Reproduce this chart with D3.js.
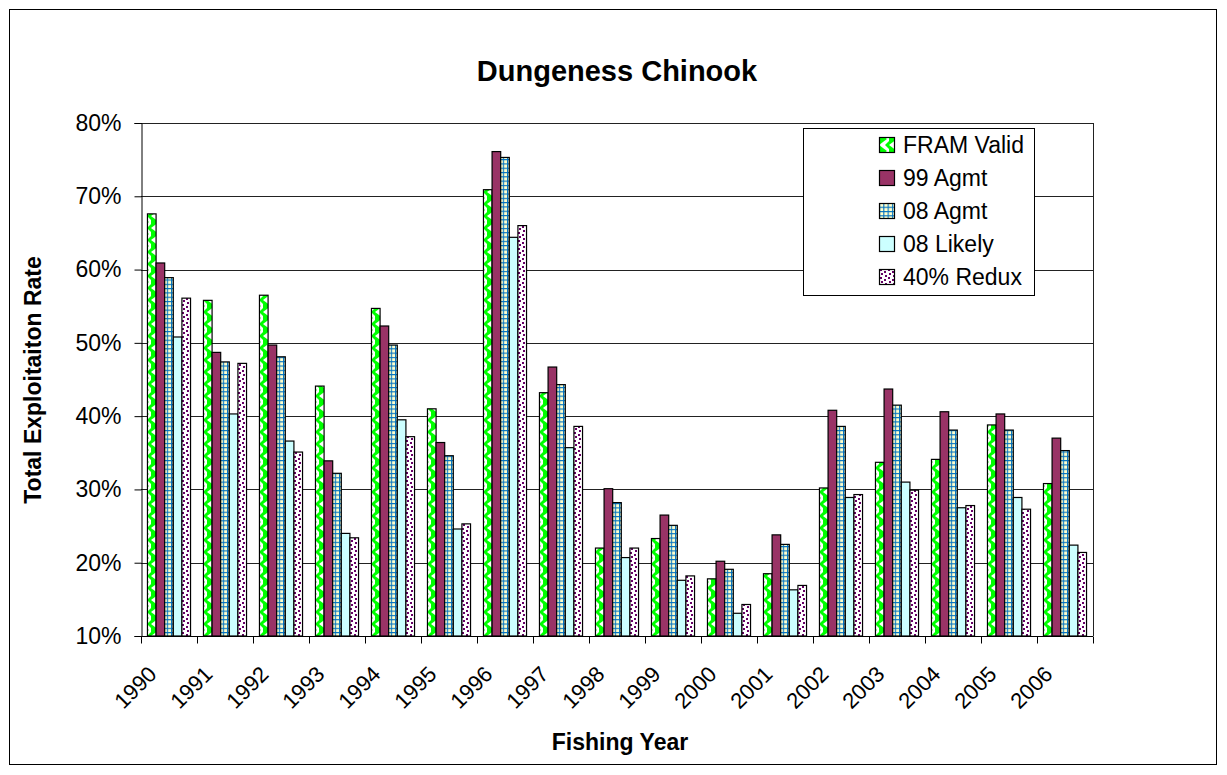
<!DOCTYPE html>
<html>
<head>
<meta charset="utf-8">
<script src="https://cdn.jsdelivr.net/npm/d3@7"></script>
<style>
  html, body { margin: 0; padding: 0; background: #fff; }
  svg { display: block; font-family: "Liberation Sans", Arial, sans-serif; }
</style>
</head>
<body>
<svg id="chart" width="1227" height="775"></svg>
<script>
// Total exploitation rate by fishing year, five model scenarios
const years = ["1990","1991","1992","1993","1994","1995","1996","1997","1998","1999","2000","2001","2002","2003","2004","2005","2006"];
const seriesNames = ["FRAM Valid", "99 Agmt", "08 Agmt", "08 Likely", "40% Redux"];
const framValid = [67.6, 55.8, 56.5, 44.1, 54.7, 41.0, 70.9, 43.2, 22.0, 23.3, 17.8, 18.5, 30.2, 33.7, 34.1, 38.8, 30.8];
const agmt99    = [60.9, 48.7, 49.7, 33.9, 52.3, 36.4, 76.1, 46.7, 30.1, 26.5, 20.2, 23.8, 40.8, 43.7, 40.6, 40.3, 37.0];
const agmt08    = [58.9, 47.4, 48.1, 32.2, 49.7, 34.6, 75.3, 44.3, 28.2, 25.1, 19.1, 22.5, 38.6, 41.5, 38.1, 38.1, 35.3];
const likely08  = [50.8, 40.3, 36.6, 24.0, 39.5, 24.6, 64.4, 35.7, 20.7, 17.6, 13.1, 16.3, 28.9, 31.0, 27.5, 28.9, 22.4];
const redux40   = [56.1, 47.2, 35.1, 23.4, 37.2, 25.3, 66.0, 38.6, 22.0, 18.2, 14.3, 16.9, 29.3, 29.9, 27.8, 27.3, 21.4];
const yTicks = [0.1, 0.2, 0.3, 0.4, 0.5, 0.6, 0.7, 0.8];

const seriesValues = [framValid, agmt99, agmt08, likely08, redux40];
const fills = ["url(#pFram)", "#993366", "url(#pGrid)", "#CCFFFF", "url(#pConfetti)"];

const svg = d3.select("#chart");
const plot = { left: 141, right: 1093, top: 123, bottom: 636 };

// Patterned fills
const defs = svg.append("defs");
const pF = defs.append("pattern").attr("id", "pFram").attr("patternUnits", "userSpaceOnUse")
  .attr("width", 10).attr("height", 12);
pF.append("rect").attr("width", 10).attr("height", 12).attr("fill", "#fff");
pF.append("path").attr("d", "M0,0 L8,6 L0,12 Z").attr("fill", "#00FF00");
pF.append("path").attr("d", "M6,0 L10,0 L10,12 L6,12 L10,8 L10,4 Z").attr("fill", "#00FF00");

const pG = defs.append("pattern").attr("id", "pGrid").attr("patternUnits", "userSpaceOnUse")
  .attr("width", 4.3).attr("height", 4.3);
pG.append("rect").attr("width", 4.3).attr("height", 4.3).attr("fill", "#FFFFCC");
pG.append("rect").attr("width", 1.1).attr("height", 4.3).attr("fill", "#0070C0");
pG.append("rect").attr("width", 4.3).attr("height", 1.1).attr("fill", "#0070C0");

const pC = defs.append("pattern").attr("id", "pConfetti").attr("patternUnits", "userSpaceOnUse")
  .attr("width", 8).attr("height", 8);
pC.append("rect").attr("width", 8).attr("height", 8).attr("fill", "#fff");
[[1,0],[5,2],[2,4],[6,6]].forEach(([px, py]) =>
  pC.append("rect").attr("x", px).attr("y", py).attr("width", 2).attr("height", 2).attr("fill", "#660066"));

// Outer frame
svg.append("rect").attr("x", 9.5).attr("y", 9.5).attr("width", 1207).attr("height", 755)
  .attr("fill", "#fff").attr("stroke", "#000").attr("stroke-width", 1);

// Scales
const x0 = d3.scaleBand().domain(years).range([plot.left, plot.right]).paddingInner(0).paddingOuter(0);
const x1 = d3.scaleBand().domain(seriesNames).range([0, x0.bandwidth()]).paddingInner(0).paddingOuter(0.75);
const y = d3.scaleLinear().domain([0.1, 0.8]).range([plot.bottom, plot.top]);

// Gridlines
svg.append("g").selectAll("line").data(yTicks.slice(1)).join("line")
  .attr("x1", plot.left).attr("x2", plot.right)
  .attr("y1", d => Math.round(y(d)) + 0.5).attr("y2", d => Math.round(y(d)) + 0.5)
  .attr("stroke", "#222").attr("stroke-width", 1);

// Plot-area right edge
svg.append("line").attr("x1", plot.right + 0.5).attr("x2", plot.right + 0.5)
  .attr("y1", plot.top).attr("y2", plot.bottom).attr("stroke", "#222");

// Bars
const groups = svg.append("g").selectAll("g").data(years).join("g")
  .attr("transform", d => `translate(${x0(d)},0)`);
groups.selectAll("rect").data((yr, i) => seriesNames.map((s, j) => ({ s, j, v: seriesValues[j][i] / 100 })))
  .join("rect")
  .attr("x", d => x1(d.s))
  .attr("y", d => y(d.v))
  .attr("width", x1.bandwidth())
  .attr("height", d => y(0.1) - y(d.v))
  .attr("fill", d => fills[d.j])
  .attr("stroke", "#000").attr("stroke-width", 1.2);

// Y axis
const yAxis = d3.axisLeft(y).tickValues(yTicks).tickFormat(d3.format(".0%")).tickSize(7).tickPadding(13);
const gy = svg.append("g").attr("transform", `translate(${plot.left + 0.5},0)`).call(yAxis);
gy.select(".domain").attr("stroke", "#000");
gy.selectAll(".tick line").attr("stroke", "#000");
gy.selectAll(".tick text").attr("font-size", 23).attr("fill", "#000")
  .attr("font-family", "'Liberation Sans', Arial, sans-serif");

// X axis with ticks at category boundaries
const gx = svg.append("g").attr("transform", `translate(0,${plot.bottom + 0.5})`);
gx.append("line").attr("x1", plot.left).attr("x2", plot.right).attr("stroke", "#000");
const boundaries = years.map(d => x0(d)).concat([plot.right]);
gx.selectAll("line.tk").data(boundaries).join("line").attr("class", "tk")
  .attr("x1", d => Math.round(d) + 0.5).attr("x2", d => Math.round(d) + 0.5)
  .attr("y1", 0).attr("y2", 7).attr("stroke", "#000");
gx.selectAll("text").data(years).join("text")
  .attr("transform", d => `translate(${x0(d) + x0.bandwidth() / 2 - 11},${39}) rotate(-45)`)
  .attr("text-anchor", "end")
  .attr("font-size", 22)
  .attr("fill", "#000")
  .text(d => d);

// Titles
svg.append("text").attr("x", 617).attr("y", 81).attr("text-anchor", "middle")
  .attr("font-size", 29).attr("font-weight", "bold").text("Dungeness Chinook");
svg.append("text").attr("x", 620).attr("y", 750).attr("text-anchor", "middle")
  .attr("font-size", 23).attr("font-weight", "bold").text("Fishing Year");
svg.append("text").attr("transform", `translate(41,380) rotate(-90)`).attr("text-anchor", "middle")
  .attr("font-size", 23).attr("font-weight", "bold").text("Total Exploitaiton Rate");

// Legend
const lg = svg.append("g");
const lgTop = 128, lgRow = 33;
lg.append("rect").attr("x", 803.5).attr("y", lgTop + 0.5).attr("width", 231).attr("height", 167)
  .attr("fill", "#fff").attr("stroke", "#000");
const items = lg.selectAll("g").data(seriesNames).join("g")
  .attr("transform", (d, i) => `translate(879,${lgTop + 17 + i * lgRow})`);
items.append("rect").attr("x", 0.5).attr("y", -7.5).attr("width", 15).attr("height", 15)
  .attr("fill", (d, i) => fills[i]).attr("stroke", "#000").attr("stroke-width", 1.2);
items.append("text").attr("x", 24).attr("y", 8).attr("font-size", 23).text(d => d);
</script>
</body>
</html>
